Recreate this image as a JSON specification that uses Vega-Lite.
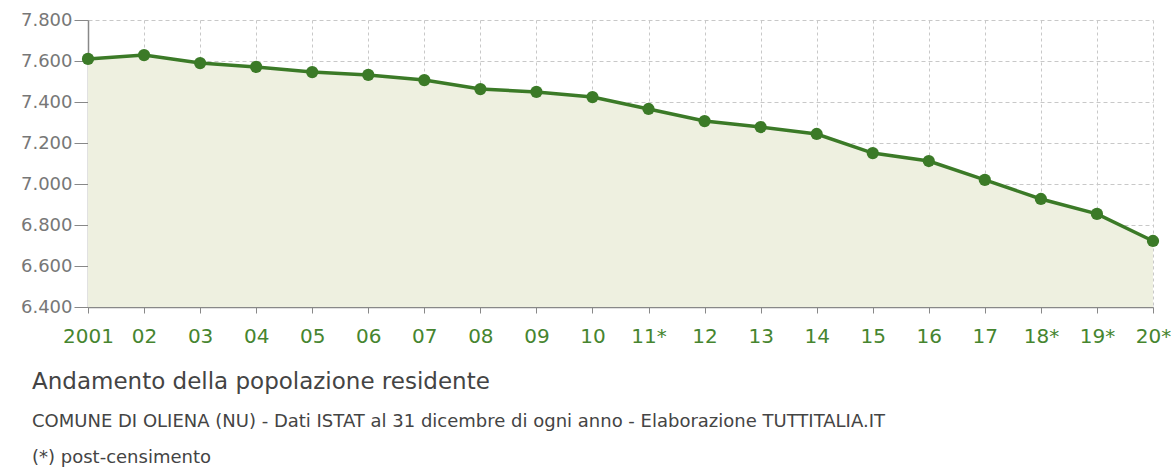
{
  "$schema": "https://vega.github.io/schema/vega-lite/v6.json",
  "width": 1065,
  "height": 287,
  "autosize": {"type": "none"},
  "padding": {"left": 88, "top": 20, "right": 18, "bottom": 166},
  "background": "white",
  "config": {
    "locale": {"number": {"decimal": ",", "thousands": ".", "grouping": [3], "currency": ["€", ""]}},
    "font": "DejaVu Sans",
    "view": {"stroke": null}
  },
  "title": {
    "text": "Andamento della popolazione residente",
    "subtitle": ["COMUNE DI OLIENA (NU) - Dati ISTAT al 31 dicembre di ogni anno - Elaborazione TUTTITALIA.IT", "(*) post-censimento"],
    "orient": "bottom",
    "anchor": "start",
    "frame": "group",
    "dx": -56,
    "offset": 25,
    "font": "DejaVu Sans",
    "fontSize": 23,
    "fontWeight": "normal",
    "color": "#444444",
    "subtitleFont": "DejaVu Sans",
    "subtitleFontSize": 18,
    "subtitleColor": "#444444",
    "subtitleLineHeight": 36,
    "subtitlePadding": 19
  },
  "data": {
    "values": [
      {"label": "2001", "pop": 7610},
      {"label": "02", "pop": 7629},
      {"label": "03", "pop": 7590},
      {"label": "04", "pop": 7571},
      {"label": "05", "pop": 7546},
      {"label": "06", "pop": 7532},
      {"label": "07", "pop": 7507},
      {"label": "08", "pop": 7463},
      {"label": "09", "pop": 7449},
      {"label": "10", "pop": 7424},
      {"label": "11*", "pop": 7366},
      {"label": "12", "pop": 7307},
      {"label": "13", "pop": 7278},
      {"label": "14", "pop": 7244},
      {"label": "15", "pop": 7151},
      {"label": "16", "pop": 7112},
      {"label": "17", "pop": 7020},
      {"label": "18*", "pop": 6927},
      {"label": "19*", "pop": 6854},
      {"label": "20*", "pop": 6722}
    ]
  },
  "encoding": {
    "x": {
      "field": "label",
      "type": "ordinal",
      "sort": null,
      "scale": {"type": "point", "padding": 0},
      "axis": {
        "title": null,
        "labelAngle": 0,
        "labelColor": "#46852f",
        "labelFont": "DejaVu Sans",
        "labelFontSize": 20,
        "labelPadding": 13,
        "tickColor": "#888888",
        "tickSize": 6,
        "domainColor": "#888888",
        "domainWidth": 1.5,
        "grid": true,
        "gridColor": "#c8c8c8",
        "gridDash": [3, 3],
        "labelOverlap": false
      }
    },
    "y": {
      "field": "pop",
      "type": "quantitative",
      "scale": {"domain": [6400, 7800], "nice": false, "zero": false},
      "axis": {
        "title": null,
        "values": [6400, 6600, 6800, 7000, 7200, 7400, 7600, 7800],
        "format": ",d",
        "labelColor": "#777777",
        "labelFont": "DejaVu Sans",
        "labelFontSize": 18,
        "labelPadding": 2,
        "tickColor": "#888888",
        "tickSize": 14,
        "domainColor": "#888888",
        "domainWidth": 1.5,
        "grid": true,
        "gridColor": "#c8c8c8",
        "gridDash": [4, 3]
      }
    }
  },
  "layer": [
    {"mark": {"type": "area", "color": "#eef0e0", "opacity": 1}, "encoding": {"y2": {"datum": 6400}}},
    {"mark": {"type": "line", "color": "#3b7a27", "strokeWidth": 3.5}},
    {"mark": {"type": "point", "filled": true, "color": "#3b7a27", "size": 150, "opacity": 1}}
  ]
}
